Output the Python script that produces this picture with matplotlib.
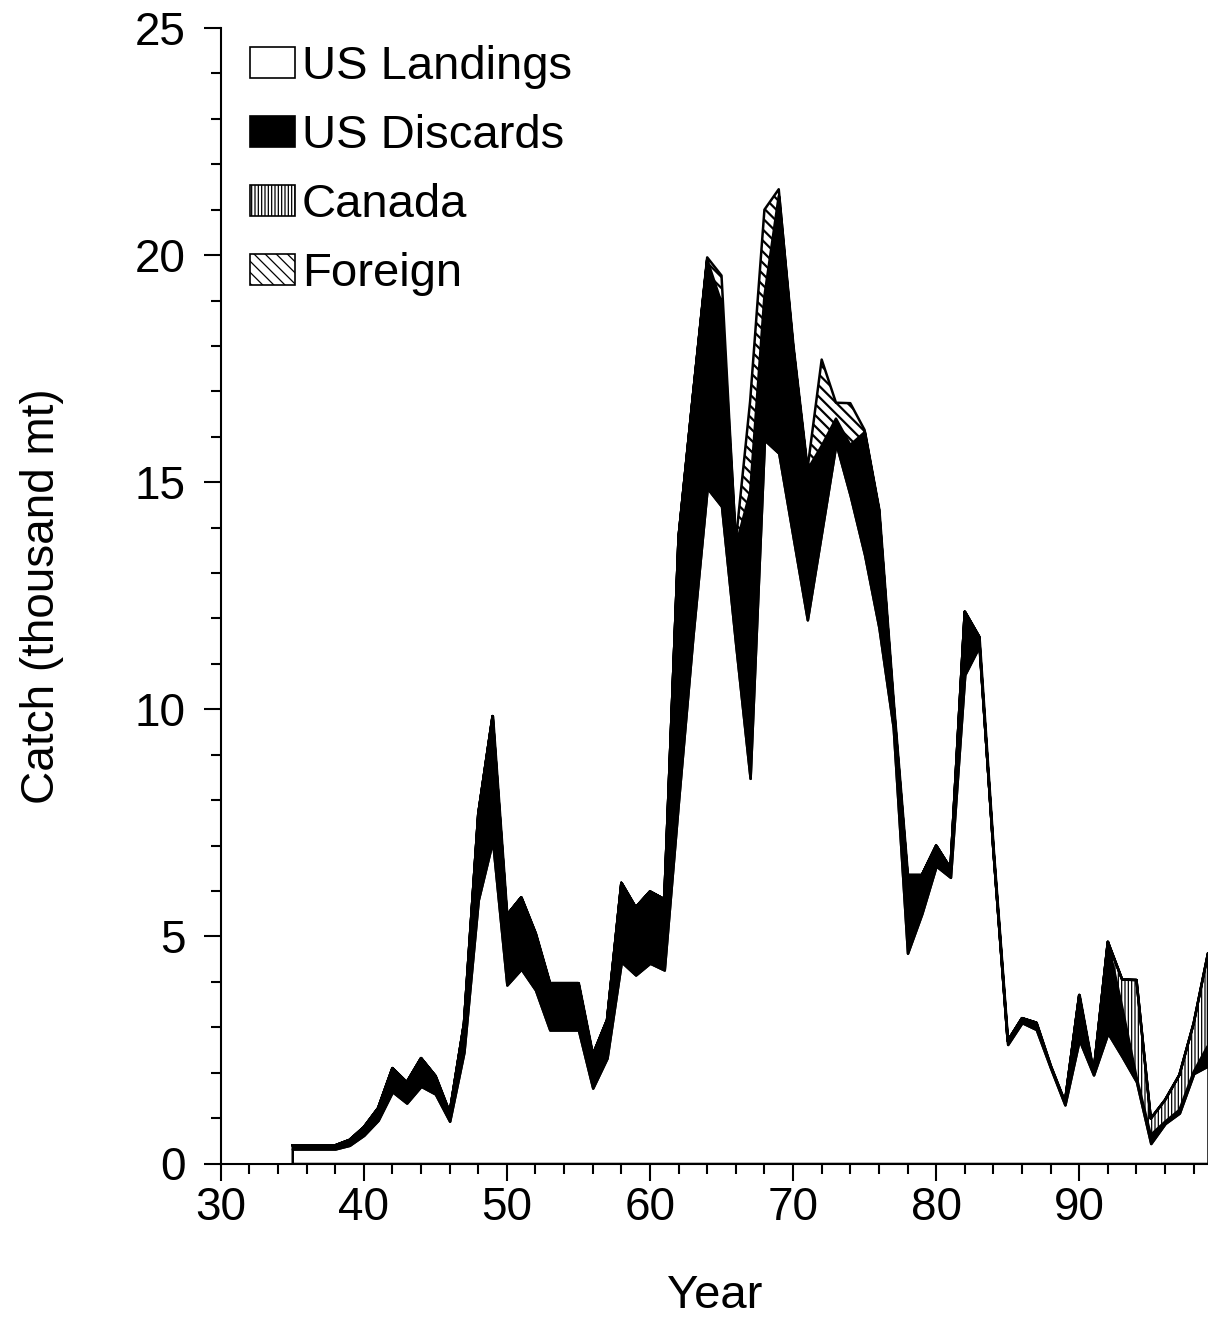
import numpy as np
import matplotlib.pyplot as plt
from matplotlib.patches import Patch
from matplotlib.ticker import MultipleLocator

plt.rcParams['font.family'] = ['Liberation Sans', 'DejaVu Sans']
plt.rcParams['hatch.linewidth'] = 0.9

# catch by component, thousand mt, 1935-1999
years = np.arange(1935, 2000)
landings = [0.32, 0.32, 0.32, 0.32, 0.40, 0.62, 0.95, 1.58, 1.33, 1.70,
            1.53, 0.93, 2.45, 5.80, 7.10, 3.93, 4.28, 3.82, 2.94, 2.94,
            2.94, 1.66, 2.32, 4.44, 4.15, 4.41, 4.26, 8.00, 11.60, 14.87,
            14.47, 11.40, 8.48, 15.93, 15.64, 13.80, 11.97, 13.90, 15.85, 14.70,
            13.40, 11.80, 9.60, 4.63, 5.50, 6.55, 6.30, 10.76, 11.38, 6.80,
            2.62, 3.10, 2.95, 2.10, 1.29, 2.72, 1.95, 2.87, 2.35, 1.80,
            0.44, 0.88, 1.11, 1.98, 2.15]
discards = [0.08, 0.08, 0.08, 0.08, 0.12, 0.18, 0.27, 0.52, 0.46, 0.62,
            0.40, 0.19, 0.63, 1.90, 2.75, 1.54, 1.58, 1.25, 1.03, 1.03,
            1.03, 0.73, 0.84, 1.74, 1.49, 1.58, 1.56, 5.80, 5.30, 5.03,
            4.48, 2.20, 6.30, 3.17, 5.66, 4.20, 3.30, 1.90, 0.55, 1.12,
            2.70, 2.60, 0.60, 1.72, 0.85, 0.45, 0.20, 1.39, 0.22, 0.10,
            0.08, 0.10, 0.15, 0.05, 0.06, 0.99, 0.05, 2.01, 1.10, 0.11,
            0.19, 0.04, 0.07, 0.04, 0.45]
canada_years = [1993, 1994, 1995, 1996, 1997, 1998, 1999]
canada_vals = [0.60, 2.13, 0.36, 0.48, 0.77, 1.07, 2.03]
foreign_years = [1964, 1965, 1966, 1967, 1968, 1969, 1972, 1973, 1974, 1975]
foreign_vals = [0.05, 0.60, 0.10, 2.00, 1.90, 0.15, 1.90, 0.35, 0.92, 0.05]

canada = np.zeros(len(years))
canada[np.searchsorted(years, canada_years)] = canada_vals
foreign = np.zeros(len(years))
foreign[np.searchsorted(years, foreign_years)] = foreign_vals

x = years - 1900
y1 = np.array(landings)
y2 = y1 + np.array(discards)
y3 = y2 + canada
y4 = y3 + foreign

fig = plt.figure(figsize=(12.08, 13.22), dpi=100)
ax = fig.add_axes([220.7 / 1208, 1 - 1163.5 / 1322, (1208 - 220.7) / 1208, (1163.5 - 28) / 1322])

lw = 1.8
canada_hatch = '|||||'
foreign_hatch = '\\\\\\'
ax.fill_between(x, 0, y1, facecolor='white', edgecolor='black', linewidth=lw)
ax.fill_between(x, y1, y2, facecolor='black', edgecolor='black', linewidth=lw)
ax.fill_between(x, y2, y3, facecolor='white', edgecolor='black', linewidth=lw, hatch=canada_hatch)
with plt.rc_context({'hatch.linewidth': 1.6}):
    ax.fill_between(x, y3, y4, facecolor='white', edgecolor='black', linewidth=lw, hatch=foreign_hatch)

ax.set_xlim(30, 99)
ax.set_ylim(0, 25)
ax.xaxis.set_major_locator(MultipleLocator(10))
ax.xaxis.set_minor_locator(MultipleLocator(2))
ax.yaxis.set_major_locator(MultipleLocator(5))
ax.yaxis.set_minor_locator(MultipleLocator(1))

ax.spines['top'].set_visible(False)
ax.spines['right'].set_visible(False)
ax.spines['left'].set_linewidth(1.5)
ax.spines['bottom'].set_linewidth(1.5)

ax.tick_params(axis='both', which='major', direction='out', length=12, width=1.5, labelsize=33)
ax.tick_params(axis='both', which='minor', direction='out', length=7, width=1.5)
ax.tick_params(axis='x', which='major', pad=4)
ax.tick_params(axis='y', which='major', pad=13)

ax.set_xlabel('Year', fontsize=34, labelpad=32)
ax.set_ylabel('Catch (thousand mt)', fontsize=33, labelpad=51)

handles = [
    Patch(facecolor='white', edgecolor='black', linewidth=1.2, label='US Landings'),
    Patch(facecolor='black', edgecolor='black', linewidth=1.2, label='US Discards'),
    Patch(facecolor='white', edgecolor='black', linewidth=1.2, hatch=canada_hatch, label='Canada'),
]
with plt.rc_context({'hatch.linewidth': 1.3}):
    handles.append(Patch(facecolor='white', edgecolor='black', linewidth=1.2,
                         hatch=foreign_hatch, label='Foreign'))
fig.legend(handles=handles, loc='upper left', bbox_to_anchor=(250 / 1208, 1 - 45 / 1322),
           frameon=False, fontsize=34, borderpad=0, borderaxespad=0,
           handlelength=0.95, handleheight=0.62, handletextpad=0.15, labelspacing=0.53)

fig.savefig('out.png', dpi=100)
